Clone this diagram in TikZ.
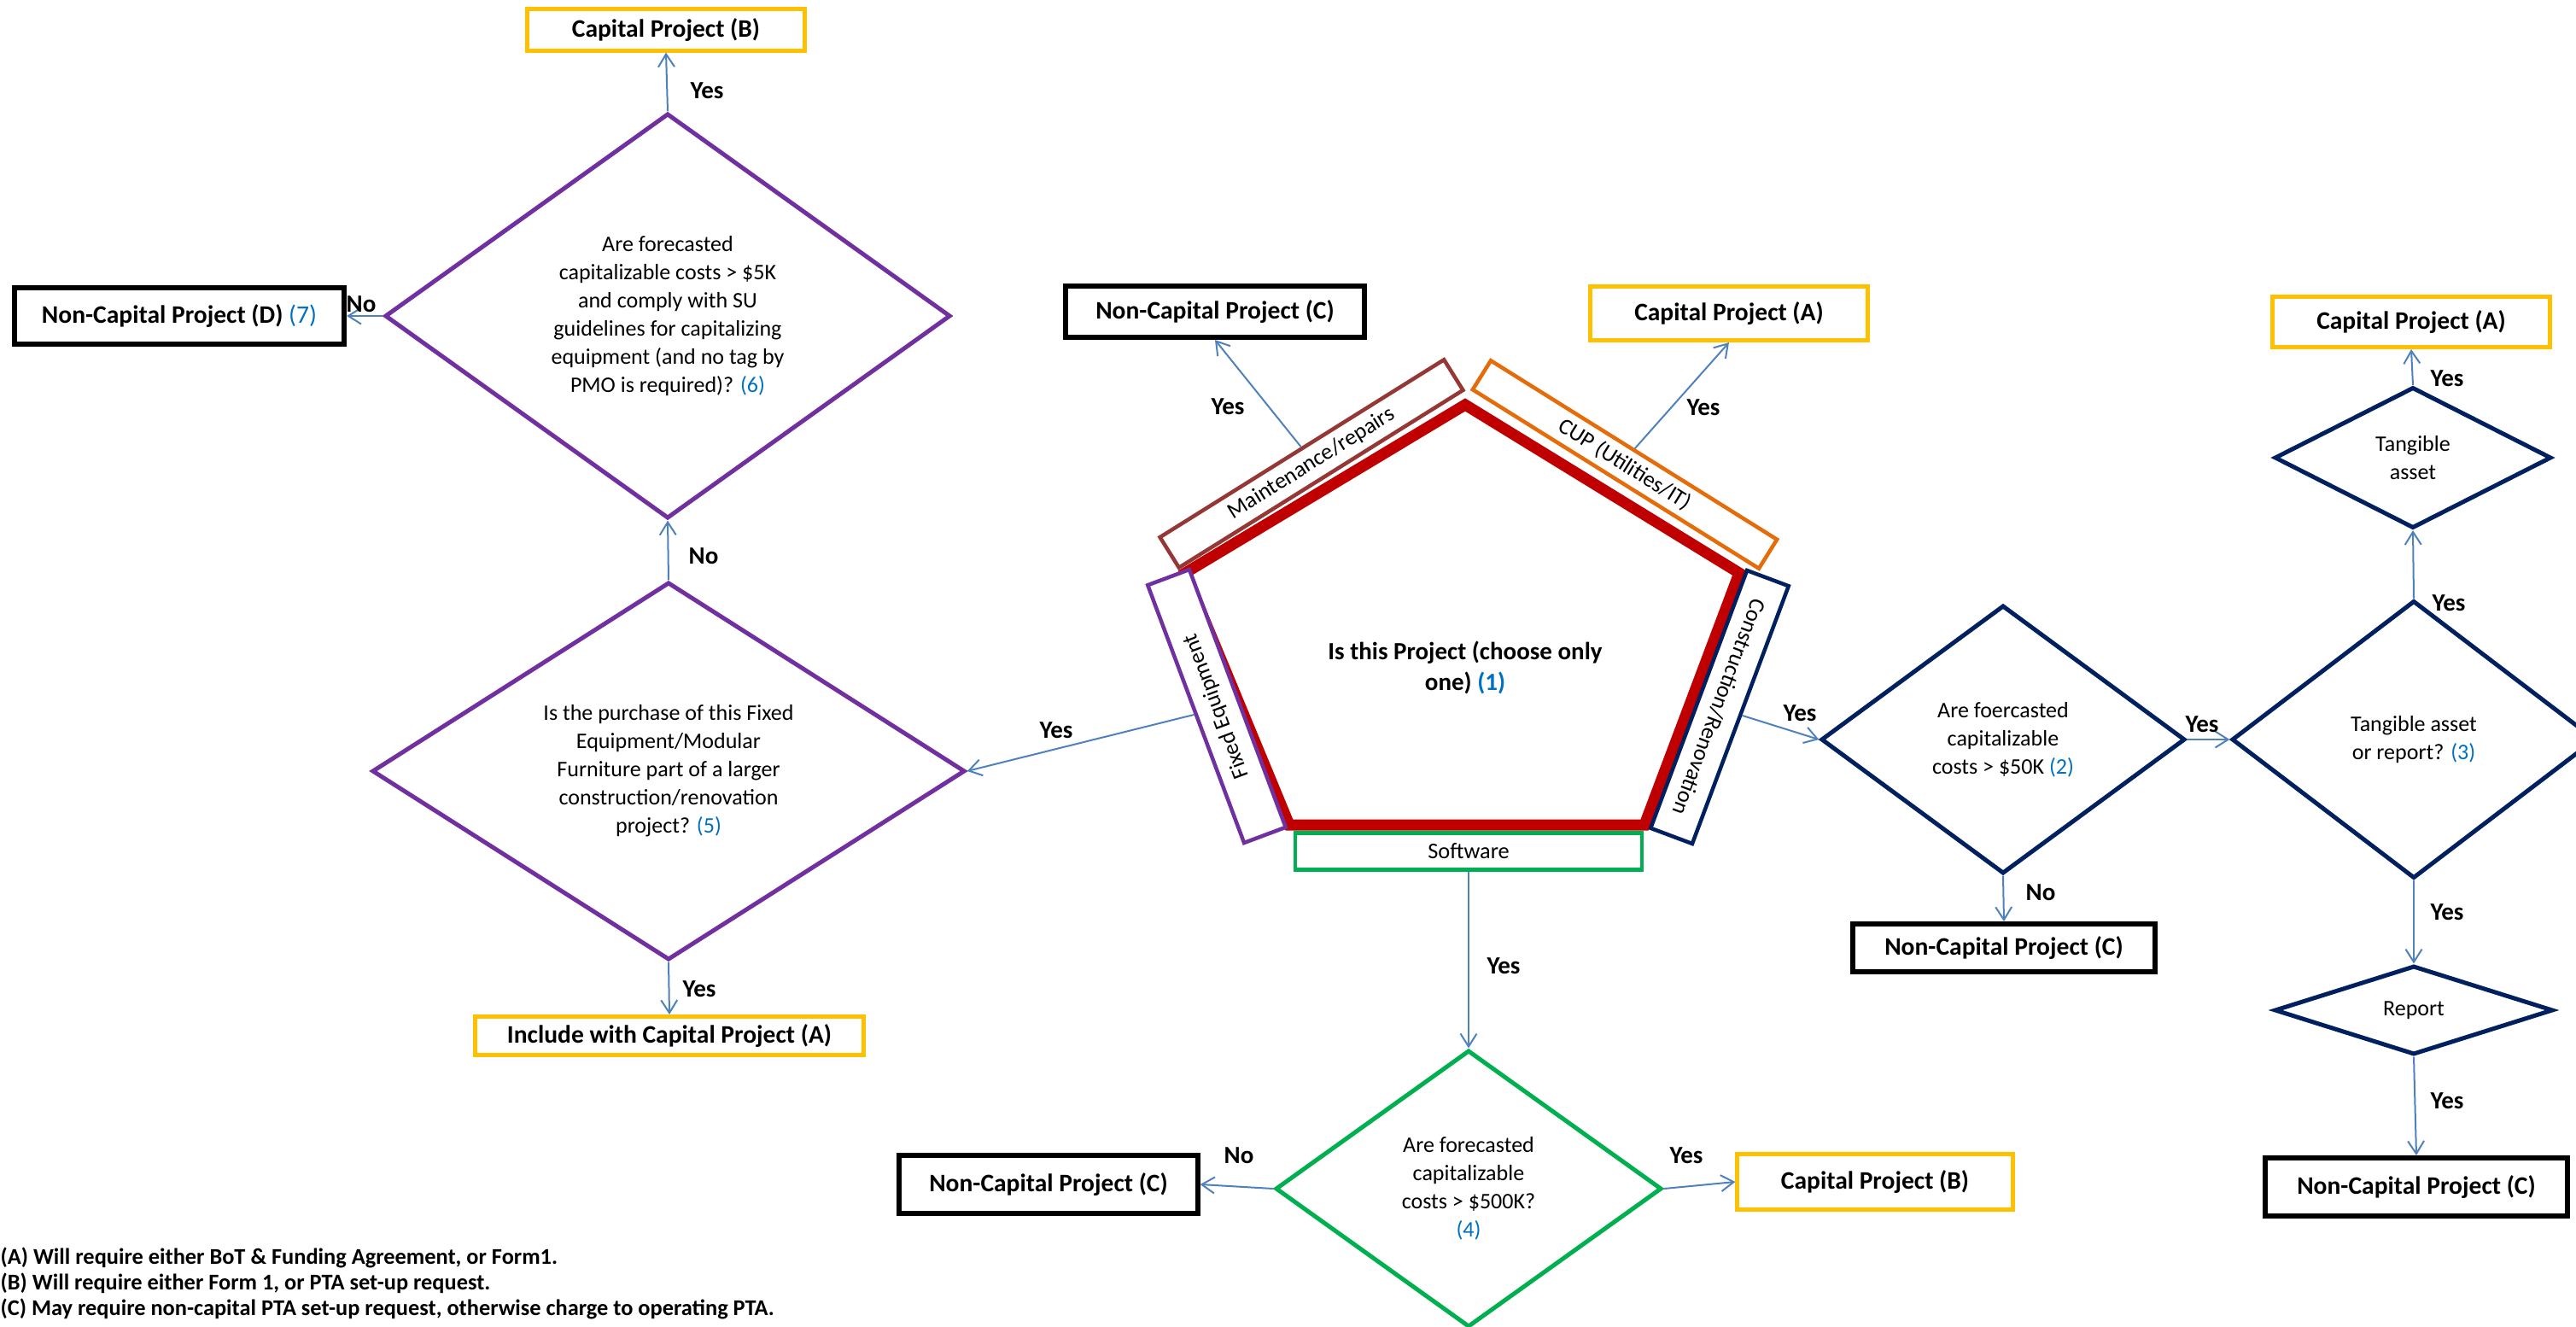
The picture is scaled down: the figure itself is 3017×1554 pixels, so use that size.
\documentclass[tikz,border=0pt]{standalone}
\usepackage{fontspec}
\setmainfont{Carlito}
\usetikzlibrary{shapes.geometric,arrows.meta}

\definecolor{capyellow}{HTML}{FFC000}
\definecolor{purpleline}{HTML}{7030A0}
\definecolor{navyline}{HTML}{002060}
\definecolor{greenline}{HTML}{00B050}
\definecolor{redline}{HTML}{C00000}
\definecolor{brownline}{HTML}{953735}
\definecolor{orangeline}{HTML}{E46C0A}
\definecolor{arrowblue}{HTML}{4F81BD}
\definecolor{numblue}{HTML}{0070C0}

\newcommand{\qnum}[1]{{\color{numblue}#1}}

\tikzstyle{block} = [draw, rectangle, fill=white, inner sep=0pt, align=center, font=\fontsize{8.4}{9.5}\selectfont\bfseries]
\tikzstyle{capital-block} = [block, draw=capyellow, line width=0.05cm]
\tikzstyle{noncapital-block} = [block, draw=black, line width=0.06cm]
\tikzstyle{category-block} = [draw, rectangle, fill=white, inner sep=0pt, line width=0.045cm, font=\fontsize{7.5}{9}\selectfont]
\tikzstyle{decision} = [diamond, draw, fill=white, inner sep=0pt, align=center, line width=0.05cm, font=\fontsize{7.4}{9.4}\selectfont]
\tikzstyle{purple-decision} = [decision, draw=purpleline]
\tikzstyle{navy-decision} = [decision, draw=navyline]
\tikzstyle{green-decision} = [decision, draw=greenline]
\tikzstyle{flow} = [draw=arrowblue, line width=0.02cm, -{Straight Barb[length=0.15cm, width=0.19cm]}]
\tikzstyle{answer} = [inner sep=0pt, font=\fontsize{8.25}{9.5}\selectfont\bfseries]

\begin{document}
\begin{tikzpicture}[x=0.01cm, y=-0.01cm]
	\useasboundingbox (0,0) rectangle (3017,1554);
	
	% centre pentagon
	\coordinate (p-top) at (1716,474);
	\coordinate (p-right) at (2037,671);
	\coordinate (p-lowright) at (1926,966);
	\coordinate (p-lowleft) at (1510,966);
	\coordinate (p-left) at (1388,671);
	\draw[redline, line width=0.13cm] (p-top) -- (p-right) -- (p-lowright) -- (p-lowleft) -- (p-left) -- cycle;
	\node[align=center, font=\fontsize{8.25}{10}\selectfont\bfseries] (project) at (1716,782) {Is this Project (choose only\\one) \qnum{(1)}};
	
	\node[category-block, draw=brownline, minimum width=3.92cm, minimum height=0.42cm, rotate=32] (maintenance) at (1536,543) {Maintenance/repairs};
	\node[category-block, draw=orangeline, minimum width=3.95cm, minimum height=0.40cm, rotate=-32] (cup) at (1903,544) {CUP (Utilities/IT)};
	\node[category-block, draw=purpleline, minimum width=3.22cm, minimum height=0.52cm, rotate=110.5] (fixed) at (1425,827) {Fixed Equipment};
	\node[category-block, draw=navyline, minimum width=3.22cm, minimum height=0.52cm, rotate=-110.5] (construction) at (2014,828) {Construction/Renovation};
	\node[category-block, draw=greenline, minimum width=4.06cm, minimum height=0.43cm] (software) at (1720,997) {Software};
	
	% fixed equipment branch
	\node[purple-decision, minimum width=6.62cm, minimum height=4.74cm, aspect=1.4] (equipment-test) at (782,370) {Are forecasted\\capitalizable costs > \$5K\\and comply with SU\\guidelines for capitalizing\\equipment (and no tag by\\PMO is required)? \qnum{(6)}};
	\node[purple-decision, minimum width=6.94cm, minimum height=4.42cm, aspect=1.57] (furniture-test) at (783,903) {Is the purchase of this Fixed\\Equipment/Modular\\Furniture part of a larger\\construction/renovation\\project? \qnum{(5)}};
	\node[capital-block, minimum width=3.24cm, minimum height=0.48cm] (capital-b-top) at (780,35) {Capital Project (B)};
	\node[noncapital-block, minimum width=3.86cm, minimum height=0.65cm] (noncapital-d) at (210,370) {Non-Capital Project (D) {\mdseries\qnum{(7)}}};
	\node[capital-block, minimum width=4.55cm, minimum height=0.45cm] (include-a) at (784,1213) {Include with Capital Project (A)};
	
	\node[noncapital-block, minimum width=3.49cm, minimum height=0.60cm] (noncapital-c-top) at (1423,365) {Non-Capital Project (C)};
	\node[capital-block, minimum width=3.25cm, minimum height=0.63cm] (capital-a-top) at (2025,367) {Capital Project (A)};
	
	% construction branch
	\node[navy-decision, minimum width=4.26cm, minimum height=3.14cm, aspect=1.36] (cost-test) at (2346,866) {Are foercasted\\capitalizable\\costs > \$50K \qnum{(2)}};
	\node[noncapital-block, minimum width=3.53cm, minimum height=0.56cm] (noncapital-c-mid) at (2347,1110) {Non-Capital Project (C)};
	\node[navy-decision, minimum width=4.26cm, minimum height=3.25cm, aspect=1.31] (asset-test) at (2827,866) {Tangible asset\\or report? \qnum{(3)}};
	\node[navy-decision, minimum width=3.24cm, minimum height=1.65cm, aspect=1.96] (tangible) at (2826,536) {Tangible\\asset};
	\node[capital-block, minimum width=3.24cm, minimum height=0.59cm] (capital-a-right) at (2824,377) {Capital Project (A)};
	\node[navy-decision, minimum width=3.26cm, minimum height=1.04cm, aspect=3.13] (report) at (2827,1183) {Report};
	\node[noncapital-block, minimum width=3.54cm, minimum height=0.68cm] (noncapital-c-right) at (2830,1390) {Non-Capital Project (C)};
	
	% software branch
	\node[green-decision, minimum width=4.52cm, minimum height=3.24cm, aspect=1.4] (software-test) at (1720,1392) {Are forecasted\\capitalizable\\costs > \$500K?\\\qnum{(4)}};
	\node[noncapital-block, minimum width=3.49cm, minimum height=0.67cm] (noncapital-c-left) at (1228,1387) {Non-Capital Project (C)};
	\node[capital-block, minimum width=3.22cm, minimum height=0.64cm] (capital-b-bottom) at (2196,1384) {Capital Project (B)};
	
	\node[anchor=west, align=left, inner sep=0pt, font=\fontsize{7.5}{8.5}\selectfont\bfseries] (notes) at (0,1503) {(A) Will require either BoT \& Funding Agreement, or Form1.\\(B) Will require either Form 1, or PTA set-up request.\\(C) May require non-capital PTA set-up request, otherwise charge to operating PTA.};
	
	\draw[flow] (equipment-test.north) -- (capital-b-top.south);
	\draw[flow] (equipment-test.west) -- (noncapital-d.east);
	\draw[flow] (furniture-test.north) -- (equipment-test.south);
	\draw[flow] (furniture-test.south) -- (include-a.north);
	\draw[flow] (fixed.north) -- (furniture-test.east);
	\draw[flow] (maintenance.north) -- (noncapital-c-top.south);
	\draw[flow] (cup.north) -- (capital-a-top.south);
	\draw[flow] (construction.north) -- (cost-test.west);
	\draw[flow] (cost-test.south) -- (noncapital-c-mid.north);
	\draw[flow] (cost-test.east) -- (asset-test.west);
	\draw[flow] (asset-test.north) -- (tangible.south);
	\draw[flow] (tangible.north) -- (capital-a-right.south);
	\draw[flow] (asset-test.south) -- (report.north);
	\draw[flow] (report.south) -- (noncapital-c-right.north);
	\draw[flow] (software.south) -- (software-test.north);
	\draw[flow] (software-test.west) -- (noncapital-c-left.east);
	\draw[flow] (software-test.east) -- (capital-b-bottom.west);
	
	\foreach \lbl/\x/\y/\txt in {yes-b-top/828/106/Yes, no-d/423/356/No, no-furniture/824/651/No, yes-include/819/1158/Yes,
		yes-fixed/1237/855/Yes, yes-maintenance/1438/476/Yes, yes-cup/1995/477/Yes,
		yes-construction/2108/835/Yes, no-cost/2390/1045/No, yes-cost/2579/848/Yes,
		yes-asset/2868/706/Yes, yes-tangible/2866/443/Yes, yes-report/2866/1068/Yes,
		yes-noncap/2866/1289/Yes, yes-software/1761/1131/Yes, no-software/1451/1353/No,
		yes-software-b/1975/1353/Yes}{%
		\node[answer] (\lbl) at (\x,\y) {\txt};}
	
\end{tikzpicture}
\end{document}
